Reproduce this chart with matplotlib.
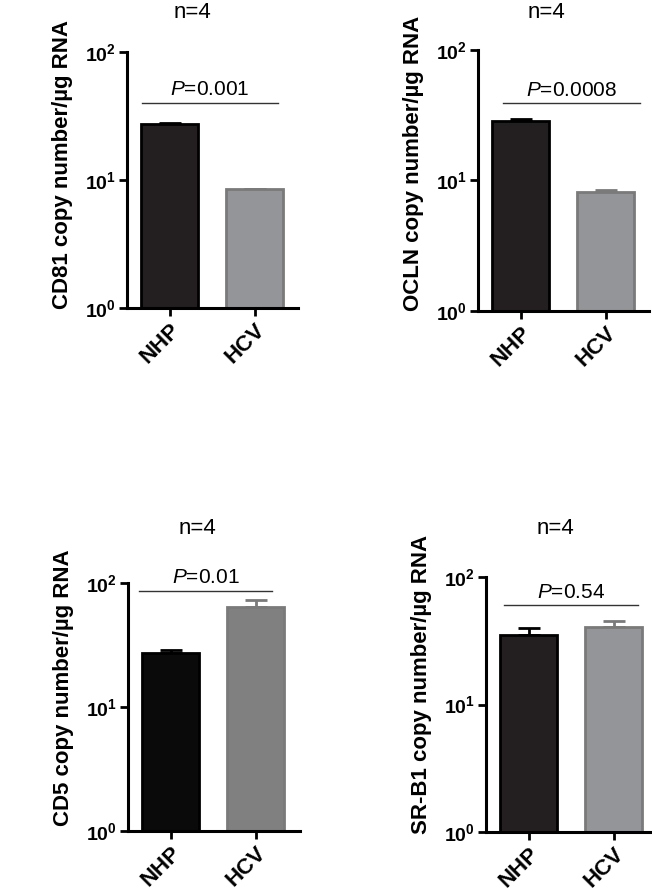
import numpy as np
import matplotlib
matplotlib.use('Agg')
import matplotlib.pyplot as plt

plt.rcParams['font.family'] = ['Liberation Sans', 'DejaVu Sans']
plt.rcParams['mathtext.fontset'] = 'custom'
plt.rcParams['mathtext.rm'] = 'Liberation Sans'
plt.rcParams['mathtext.it'] = 'Liberation Sans:italic'
plt.rcParams['mathtext.bf'] = 'Liberation Sans:bold'

# data
genes = ['CD81', 'OCLN', 'CD5', 'SR-B1']
groups = ['NHP', 'HCV']
nhp_mean = [27.4, 28.6, 27.2, 35.0]
nhp_err = [0.3, 0.8, 1.7, 4.8]
hcv_mean = [8.5, 8.2, 64.0, 40.5]
hcv_err = [0.05, 0.2, 9.0, 4.5]
p_values = ['0.001', '0.0008', '0.01', '0.54']
n_samples = 4

# layout (pixels: left, top, right, bottom of the axes)
boxes = [(127, 52, 298, 308), (478, 50, 649, 311),
         (128, 583, 300, 831), (486, 577, 651, 832)]
title_xy = [(192, 12), (546, 12), (197, 528), (555, 528)]
label_y = [0.562, 0.565, 0.578, 0.58]
bar_line = [(-0.33, 1.27, 40), (-0.21, 1.40, 39), (-0.375, 1.19, 86), (-0.29, 1.29, 60)]
nhp_colors = ['#231f20', '#231f20', '#0a0a0a', '#231f20']
hcv_colors = ['#939598', '#939598', '#808080', '#939598']

W, H = 652, 888
fig = plt.figure(figsize=(W / 100, H / 100), dpi=100)

for i, gene in enumerate(genes):
    l, t, r, b = boxes[i]
    ax = fig.add_axes([l / W, (H - b) / H, (r - l) / W, (b - t) / H])
    x = np.arange(len(groups))
    vals = [nhp_mean[i], hcv_mean[i]]
    errs = [nhp_err[i], hcv_err[i]]
    ax.bar(x, vals, width=0.67, color=[nhp_colors[i], hcv_colors[i]],
           edgecolor=['black', '#7a7a7a'], linewidth=2, zorder=2)
    for j in range(2):
        ax.errorbar(x[j], vals[j], yerr=[[0], [errs[j]]], fmt='none',
                    ecolor=['black', '#7a7a7a'][j], elinewidth=2, capsize=8,
                    capthick=2, zorder=1)
    ax.set_yscale('log')
    ax.set_ylim(1, 100)
    ax.set_xlim(-0.506, 1.5 + (r - l) / 85 - 2.0)
    ax.set_yticks([1, 10, 100])
    ax.set_yticklabels([r'$\mathbf{10^{0}}$', r'$\mathbf{10^{1}}$', r'$\mathbf{10^{2}}$'],
                       fontsize=14)
    ax.minorticks_off()
    ax.set_xticks(x)
    ax.set_xticklabels(groups, rotation=45, ha='right', rotation_mode='anchor',
                       fontsize=16, fontweight='bold')
    ax.tick_params(axis='both', width=2, length=6, direction='out', pad=2)
    for s in ['top', 'right']:
        ax.spines[s].set_visible(False)
    for s in ['left', 'bottom']:
        ax.spines[s].set_linewidth(2.2)
    ax.set_ylabel(f'{gene} copy number/µg RNA', fontsize=16, fontweight='bold')
    ax.yaxis.set_label_coords(-54 / (r - l), label_y[i])

    x0, x1, yl = bar_line[i]
    ax.plot([x0, x1], [yl, yl], color='#333333', lw=1, clip_on=False)
    ax.text((x0 + x1) / 2, yl * 1.07, f'$\\it{{P}}$={p_values[i]}', ha='center',
            va='bottom', fontsize=15)
    tx, ty = title_xy[i]
    fig.text(tx / W, 1 - ty / H, f'n={n_samples}',
             ha='center', va='center', fontsize=16)

fig.savefig('out.png', dpi=100)
